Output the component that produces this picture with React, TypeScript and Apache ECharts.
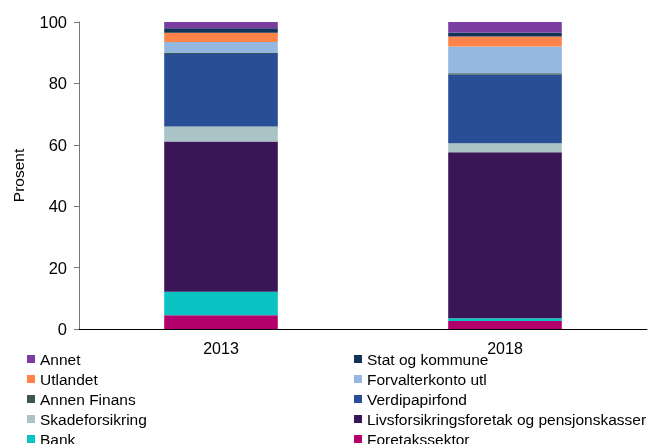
import React, { useEffect, useRef } from "react";
import * as echarts from "echarts";

const categories = ["2013", "2018"];

const seriesNames = [
  "Foretakssektor",
  "Bank",
  "Livsforsikringsforetak og pensjonskasser",
  "Skadeforsikring",
  "Verdipapirfond",
  "Annen Finans",
  "Forvalterkonto utl",
  "Utlandet",
  "Stat og kommune",
  "Annet",
];

const foretakssektor = [4.5, 2.6];
const bank = [7.6, 0.9];
const livsforsikring = [49.0, 54.1];
const skadeforsikring = [4.9, 2.9];
const verdipapirfond = [23.6, 22.4];
const annenFinans = [0.3, 0.4];
const forvalterkonto = [3.6, 8.7];
const utlandet = [3.0, 3.3];
const statOgKommune = [1.5, 1.3];
const annet = [2.0, 3.4];

const seriesValues = [
  foretakssektor,
  bank,
  livsforsikring,
  skadeforsikring,
  verdipapirfond,
  annenFinans,
  forvalterkonto,
  utlandet,
  statOgKommune,
  annet,
];

const colors = [
  "#B4006A",
  "#0AC3C3",
  "#3B1656",
  "#AAC3C7",
  "#284E96",
  "#3E5656",
  "#95B8E0",
  "#FF8248",
  "#13325A",
  "#7A3DA0",
];

const legendLeft = ["Annet", "Utlandet", "Annen Finans", "Skadeforsikring", "Bank"];
const legendRight = [
  "Stat og kommune",
  "Forvalterkonto utl",
  "Verdipapirfond",
  "Livsforsikringsforetak og pensjonskasser",
  "Foretakssektor",
];

const yTicks = { min: 0, max: 100, interval: 20 };

const FONT = "'Liberation Sans', Arial, sans-serif";

export default function App() {
  const ref = useRef<HTMLDivElement>(null);
  useEffect(() => {
    if (!ref.current) return;
    const chart = echarts.init(ref.current, undefined, { renderer: "svg" });
    const legendCommon = {
      orient: "vertical",
      icon: "rect",
      itemWidth: 8,
      itemHeight: 8,
      itemGap: 4,
      padding: 0,
      height: 110,
      textStyle: { fontFamily: FONT, fontSize: 15.5, color: "#000", lineHeight: 16 },
      selectedMode: false,
    };
    chart.setOption({
      animation: false,
      color: colors,
      textStyle: { fontFamily: FONT },
      grid: { left: 79, right: 2, top: 22, bottom: 115, containLabel: false },
      legend: [
        { ...legendCommon, left: 27, top: 351, data: legendLeft },
        { ...legendCommon, left: 354, top: 351, data: legendRight },
      ],
      xAxis: {
        type: "category",
        data: categories,
        axisLine: { show: true, lineStyle: { color: "#000", width: 1 } },
        axisTick: { show: false },
        axisLabel: { fontFamily: FONT, fontSize: 16, color: "#000", margin: 11 },
      },
      yAxis: {
        type: "value",
        min: yTicks.min,
        max: yTicks.max,
        interval: yTicks.interval,
        name: "Prosent",
        nameLocation: "middle",
        nameGap: 53,
        nameTextStyle: { fontFamily: FONT, fontSize: 15.5, color: "#000" },
        axisLine: { show: true, lineStyle: { color: "#777", width: 1 } },
        axisTick: { show: true, length: 5, lineStyle: { color: "#777" } },
        axisLabel: { fontFamily: FONT, fontSize: 16.5, color: "#000", margin: 12 },
        splitLine: { show: false },
      },
      series: seriesNames.map((name, i) => ({
        name,
        type: "bar",
        stack: "total",
        barWidth: "40%",
        data: seriesValues[i],
        itemStyle: { color: colors[i] },
      })),
    });
    return () => chart.dispose();
  }, []);
  return (
    <div
      ref={ref}
      style={{ position: "fixed", left: 0, top: 0, width: 649, height: 444 }}
    />
  );
}
